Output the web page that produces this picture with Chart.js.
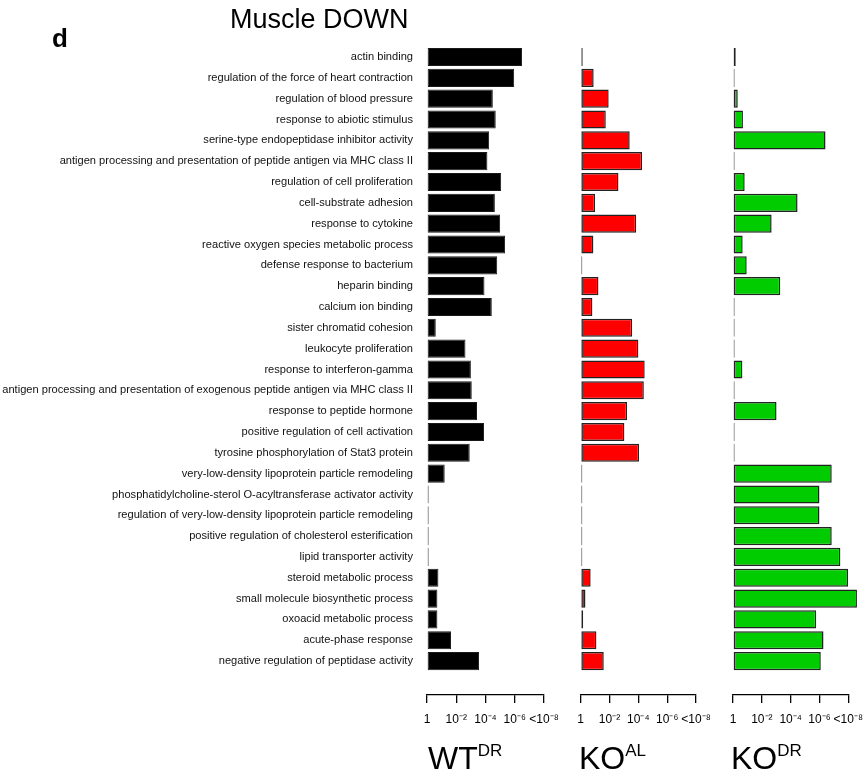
<!DOCTYPE html>
<html>
<head>
<meta charset="utf-8">
<script src="https://cdn.jsdelivr.net/npm/chart.js@4.4.1/dist/chart.umd.min.js"></script>
<style>
    html, body { margin: 0; padding: 0; background: #fff; overflow: hidden; }
    #fig { position: relative; width: 863px; height: 773px; overflow: hidden; background: #fff; }
    #fig canvas { position: absolute; top: 0; }
    .txt { position: absolute; font-family: "Liberation Sans", Arial, sans-serif; color: #000; line-height: 1; white-space: nowrap; }
    .panel { font-size: 32px; top: 742px; }
    .panel sup { font-size: 17px; vertical-align: 0; position: relative; top: -13px; }
</style>
</head>
<body>
<div id="fig">
    <canvas id="wtdr" width="570" height="773" style="left:0px"></canvas>
    <canvas id="koal" width="162" height="773" style="left:560px"></canvas>
    <canvas id="kodr" width="167" height="773" style="left:712px"></canvas>
    <div class="txt" style="left:52px; top:25px; font-size:26px; font-weight:bold;">d</div>
    <div class="txt" style="left:230px; top:6px; font-size:27px;">Muscle DOWN</div>
    <div class="txt panel" style="left:428px;">WT<sup>DR</sup></div>
    <div class="txt panel" style="left:579px;">KO<sup>AL</sup></div>
    <div class="txt panel" style="left:731px;">KO<sup>DR</sup></div>
</div>
<script>
    var categories = [
        'actin binding',
        'regulation of the force of heart contraction',
        'regulation of blood pressure',
        'response to abiotic stimulus',
        'serine-type endopeptidase inhibitor activity',
        'antigen processing and presentation of peptide antigen via MHC class II',
        'regulation of cell proliferation',
        'cell-substrate adhesion',
        'response to cytokine',
        'reactive oxygen species metabolic process',
        'defense response to bacterium',
        'heparin binding',
        'calcium ion binding',
        'sister chromatid cohesion',
        'leukocyte proliferation',
        'response to interferon-gamma',
        'antigen processing and presentation of exogenous peptide antigen via MHC class II',
        'response to peptide hormone',
        'positive regulation of cell activation',
        'tyrosine phosphorylation of Stat3 protein',
        'very-low-density lipoprotein particle remodeling',
        'phosphatidylcholine-sterol O-acyltransferase activator activity',
        'regulation of very-low-density lipoprotein particle remodeling',
        'positive regulation of cholesterol esterification',
        'lipid transporter activity',
        'steroid metabolic process',
        'small molecule biosynthetic process',
        'oxoacid metabolic process',
        'acute-phase response',
        'negative regulation of peptidase activity'
    ];

    // -log10(p) per category
    var wtDR = [6.5, 5.96, 4.5, 4.7, 4.25, 4.13, 5.07, 4.64, 5.0, 5.34, 4.8, 3.93, 4.43, 0.6, 2.63,
                3.0, 3.06, 3.42, 3.9, 2.92, 1.21, 0.11, 0.11, 0.11, 0.11, 0.78, 0.71, 0.71, 1.64, 3.56];
    var koAL = [0.14, 0.9, 1.94, 1.74, 3.4, 4.26, 2.62, 1.0, 3.85, 0.88, 0.11, 1.23, 0.81, 3.57, 4.0,
                4.44, 4.38, 3.22, 3.03, 4.05, 0.11, 0.11, 0.11, 0.11, 0.11, 0.69, 0.33, 0.17, 1.09, 1.6];
    var koDR = [0.19, 0.11, 0.33, 0.69, 6.42, 0.11, 0.81, 4.48, 2.68, 0.67, 0.95, 3.28, 0.11, 0.11, 0.11,
                0.65, 0.11, 3.02, 0.11, 0.11, 6.85, 6.0, 6.0, 6.85, 7.45, 7.98, 8.6, 5.77, 6.28, 6.09];

    var tickValues = [0, 2, 4, 6, 8];
    var tickLabels = ['1', '10\u207B\u00B2', '10\u207B\u2074', '10\u207B\u2076', '<10\u207B\u2078'];

    var fontFamily = '"Liberation Sans", Arial, sans-serif';

    function makePanel(canvasId, values, fill, edge, edgeWidth, showLabels, padLeft, padRight) {
        var yScale = {
            type: 'category',
            display: showLabels,
            offset: true,
            grid: { display: false, drawTicks: false },
            border: { display: false },
            ticks: {
                autoSkip: false,
                padding: 14,
                color: '#111',
                font: { family: fontFamily, size: 11.1 }
            }
        };
        if (showLabels) {
            yScale.afterFit = function (scale) { scale.width = 427; };
        }

        return new Chart(document.getElementById(canvasId), {
            type: 'bar',
            data: {
                labels: categories,
                datasets: [{
                    data: values,
                    xAxisID: 'x',
                    yAxisID: 'y',
                    backgroundColor: fill,
                    borderColor: edge,
                    borderWidth: edgeWidth,
                    borderSkipped: false,
                    barPercentage: 0.87,
                    categoryPercentage: 1.0,
                    clip: false
                }]
            },
            options: {
                indexAxis: 'y',
                responsive: false,
                animation: false,
                layout: { padding: { left: padLeft, right: padRight, top: 46.6, bottom: 38 } },
                plugins: { legend: { display: false }, tooltip: { enabled: false } },
                scales: {
                    x: {
                        type: 'linear',
                        axis: 'x',
                        position: 'bottom',
                        weight: 1,
                        min: 0,
                        max: 8,
                        grid: { display: true, drawOnChartArea: false, drawTicks: true, tickLength: 8, color: '#000', lineWidth: 1.3 },
                        border: { display: true, color: '#000', width: 1.3 },
                        ticks: {
                            stepSize: 2,
                            maxRotation: 0,
                            autoSkip: false,
                            padding: 9,
                            color: '#000',
                            font: { family: fontFamily, size: 12 },
                            callback: function (value) {
                                var i = tickValues.indexOf(value);
                                return i >= 0 ? tickLabels[i] : '';
                            }
                        },
                        afterFit: function (scale) { scale.height = 40; }
                    },
                    // empty band that keeps the axis line away from the last bar
                    gap: {
                        type: 'linear',
                        axis: 'x',
                        position: 'bottom',
                        weight: 0,
                        grid: { display: false },
                        border: { display: false },
                        ticks: { display: false },
                        afterFit: function (scale) { scale.height = 23.5; }
                    },
                    y: yScale
                }
            }
        });
    }

    makePanel('wtdr', wtDR, '#000000', '#1a1a1a', 1, true, 0, 26);
    makePanel('koal', koAL, '#ff0000', '#222222', 1.5, false, 20.7, 26);
    makePanel('kodr', koDR, '#00cc00', '#222222', 1.5, false, 21, 30.7);
</script>
</body>
</html>
